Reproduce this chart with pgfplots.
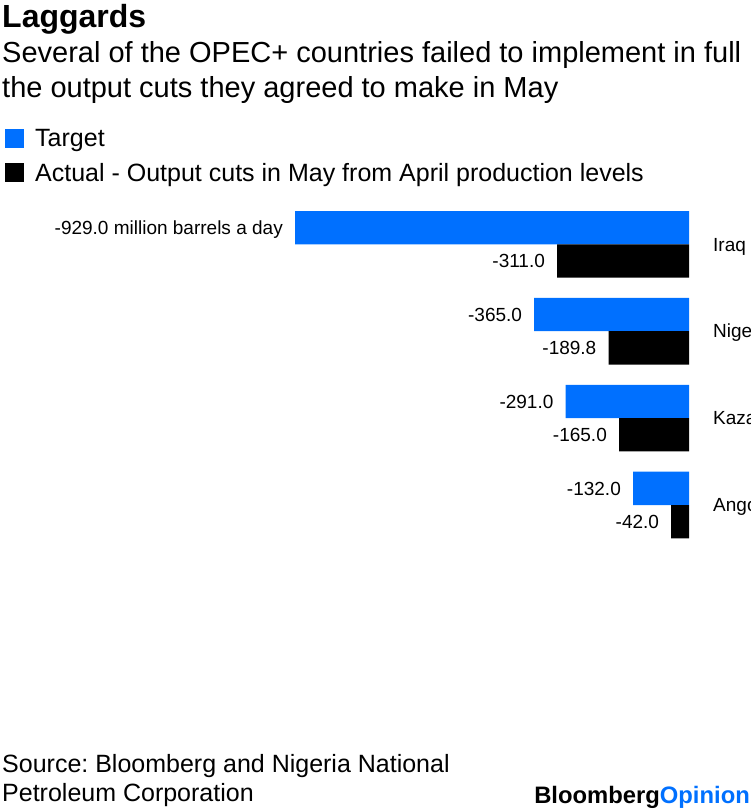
\documentclass[border=0pt]{standalone}
\usepackage{pgfplots}
\pgfplotsset{compat=1.18}
\usepackage{fontspec}
\setmainfont{Liberation Sans}
\definecolor{bblue}{RGB}{0,112,255}
\frenchspacing
\begin{document}
\begin{tikzpicture}[x=1pt,y=1pt]
\useasboundingbox (0,0) rectangle (750,-810);
\clip (0,0) rectangle (750,-810);
% titles
\node[anchor=base west, inner sep=0pt, font=\fontsize{32}{32}\selectfont\bfseries] at (2,-28) {Laggards};
\node[anchor=base west, inner sep=0pt, font=\fontsize{29}{35}\selectfont] at (2,-63) {Several of the OPEC+ countries failed to implement in full};
\node[anchor=base west, inner sep=0pt, font=\fontsize{29}{35}\selectfont] at (2,-98) {the output cuts they agreed to make in May};
% legend
\fill[bblue] (5,-129.5) rectangle (23.5,-148);
\node[anchor=base west, inner sep=0pt, font=\fontsize{25}{25}\selectfont] at (35,-147) {Target};
\fill[black] (5,-163.5) rectangle (23.5,-182);
\node[anchor=base west, inner sep=0pt, font=\fontsize{25}{25}\selectfont] at (35,-182) {Actual - Output cuts in May from April production levels};
% chart
\begin{axis}[
  anchor=north east,
  at={(689pt,-200.85pt)},
  scale only axis,
  width=424.1pt,
  height=347.6pt,
  xmin=-1000, xmax=0,
  ymin=-0.5, ymax=3.5,
  y dir=reverse,
  hide axis,
  clip=false,
  xbar,
  bar width=33.3pt,
  bar shift=0pt,
  point meta=explicit symbolic,
  nodes near coords,
]
\addplot[fill=bblue, draw=none,
  every node near coord/.append style={anchor=base east, inner sep=0pt, xshift=-12pt, yshift=-6.8pt, text=black, font=\fontsize{19}{19}\selectfont}]
  coordinates {
  (-929,-0.1916) [-929.0 million barrels a day]
  (-365,0.8084) [-365.0]
  (-291,1.8084) [-291.0]
  (-132,2.8084) [-132.0]
};
\addplot[fill=black, draw=none,
  every node near coord/.append style={anchor=base east, inner sep=0pt, xshift=-12pt, yshift=-6.8pt, text=black, font=\fontsize{19}{19}\selectfont}]
  coordinates {
  (-311,0.1916) [-311.0]
  (-189.8,1.1916) [-189.8]
  (-165,2.1916) [-165.0]
  (-42,3.1916) [-42.0]
};
\node[anchor=base west, inner sep=0pt, xshift=24pt, yshift=-6.7pt, font=\fontsize{19}{19}\selectfont] at (axis cs:0,0) {Iraq};
\node[anchor=base west, inner sep=0pt, xshift=24pt, yshift=-6.7pt, font=\fontsize{19}{19}\selectfont] at (axis cs:0,1) {Nigeria};
\node[anchor=base west, inner sep=0pt, xshift=24pt, yshift=-6.7pt, font=\fontsize{19}{19}\selectfont] at (axis cs:0,2) {Kazakhstan};
\node[anchor=base west, inner sep=0pt, xshift=24pt, yshift=-6.7pt, font=\fontsize{19}{19}\selectfont] at (axis cs:0,3) {Angola};
\end{axis}
% source
\node[anchor=base west, inner sep=0pt, font=\fontsize{25}{25}\selectfont] at (2,-772) {Source: Bloomberg and Nigeria National};
\node[anchor=base west, inner sep=0pt, font=\fontsize{25}{25}\selectfont] at (2,-801) {Petroleum Corporation};
\node[anchor=base east, inner sep=0pt, font=\fontsize{23.8}{24}\selectfont\bfseries] at (750,-803) {Bloomberg\textcolor{bblue}{Opinion}};
\end{tikzpicture}
\end{document}
